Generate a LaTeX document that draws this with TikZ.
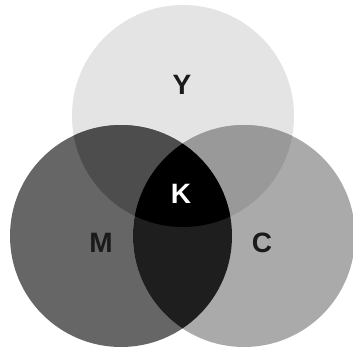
\documentclass[tikz,border=0pt]{standalone}
\usepackage{fontspec}
\setmainfont{Liberation Sans}
\definecolor{cY}{HTML}{E4E4E4}
\definecolor{cM}{HTML}{666666}
\definecolor{cC}{HTML}{AAAAAA}
\definecolor{cYM}{HTML}{4D4D4D}
\definecolor{cYC}{HTML}{999999}
\definecolor{cMC}{HTML}{1E1E1E}
\definecolor{cT}{HTML}{1A1A1A}
\begin{document}
\begin{tikzpicture}[x=1pt,y=-1pt,
  lab/.style={font=\fontsize{28}{28}\selectfont\bfseries, inner sep=0pt, text=cT}]
\fill[white] (0,0) rectangle (353,348);
\useasboundingbox (0,0) rectangle (353,348);
\def\rr{111}
\coordinate (Yc) at (183,116);
\coordinate (Mc) at (121,236);
\coordinate (Cc) at (244,236);
\fill[cY] (Yc) circle (\rr);
\fill[cM] (Mc) circle (\rr);
\fill[cC] (Cc) circle (\rr);
\begin{scope}
  \clip (Yc) circle (\rr);
  \fill[cYM] (Mc) circle (\rr);
  \fill[cYC] (Cc) circle (\rr);
\end{scope}
\begin{scope}
  \clip (Mc) circle (\rr);
  \fill[cMC] (Cc) circle (\rr);
  \clip (Cc) circle (\rr);
  \fill[black] (Yc) circle (\rr);
\end{scope}
\node[lab] (Y) at (182,85) {Y};
\node[lab] (M) at (101,243) {M};
\node[lab] (C) at (262,243) {C};
\node[lab, text=white] (K) at (181,194) {K};
\end{tikzpicture}
\end{document}
